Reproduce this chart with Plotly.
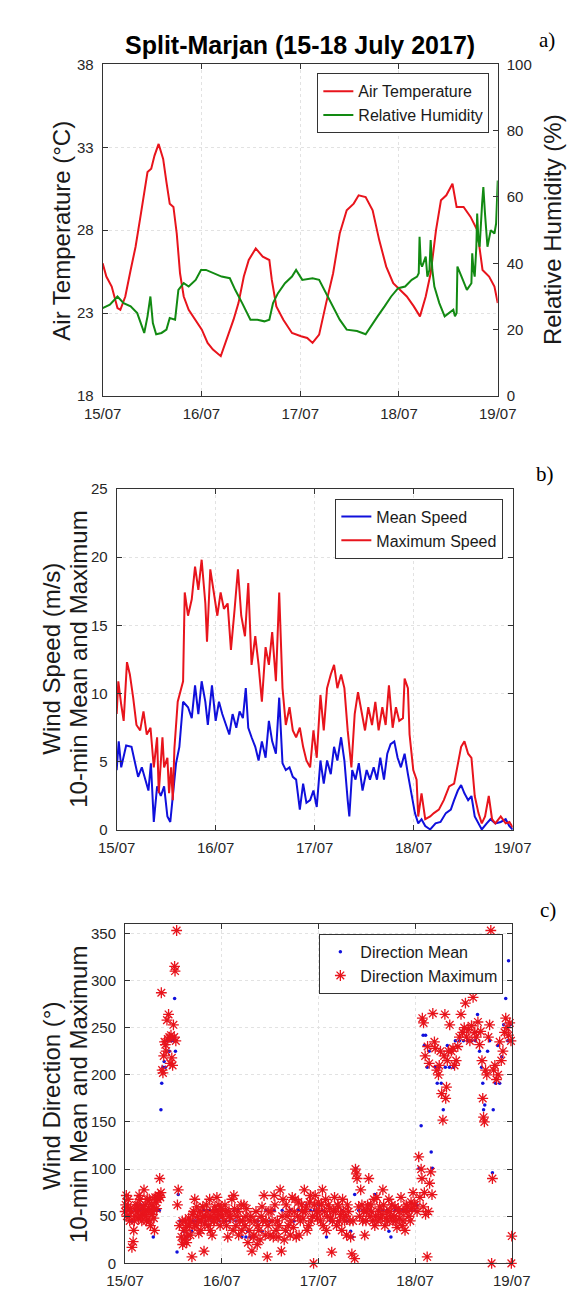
import plotly.graph_objects as go

W, H = 576, 1292

day_ticks = [0, 24, 48, 72, 96]
day_labels = ["15/07", "16/07", "17/07", "18/07", "19/07"]

# ---------------- Panel a: air temperature (°C) and relative humidity (%) ----------------
temp_hours = [0, 0.9, 2.2, 3.6, 4.3, 5.5, 6.8, 8.0, 9.3, 10.9, 11.8, 12.6, 13.6, 14.7, 15.5, 16.3,
              17.2, 18.0, 18.8, 19.7, 20.9, 22.6, 24.1, 25.5, 26.8, 28.7, 30.1, 31.8, 33.0, 34.3,
              35.5, 37.2, 38.9, 40.5, 41.1, 42.2, 43.9, 46.0, 48.2, 49.7, 51.0, 52.6, 54.3, 56.0,
              57.6, 59.3, 61.0, 62.2, 63.9, 65.6, 67.2, 68.9, 70.6, 72.2, 73.9, 75.6, 77.1, 78.5,
              79.7, 81.0, 82.2, 83.5, 85.0, 86.0, 87.7, 89.4, 91.0, 92.3, 93.9, 95.2, 96.0]
temp_vals = [26.0, 25.2, 24.6, 23.3, 23.2, 24.0, 25.6, 27.0, 29.0, 31.5, 31.7, 32.5, 33.2, 32.3,
             30.9, 29.6, 29.4, 27.8, 25.4, 24.0, 23.2, 22.6, 22.0, 21.2, 20.8, 20.4, 21.4, 22.6,
             23.6, 25.2, 26.2, 26.9, 26.4, 26.2, 25.0, 23.4, 22.6, 21.8, 21.6, 21.5, 21.2, 21.7,
             23.6, 25.4, 27.8, 29.2, 29.6, 30.1, 30.0, 29.2, 27.4, 25.8, 24.8, 24.4, 24.0, 23.4,
             22.8, 24.0, 25.4, 28.0, 29.8, 30.1, 30.8, 29.4, 29.4, 28.8, 28.0, 25.6, 25.2, 24.6, 23.6]

rh_hours = [0, 1.75, 3.6, 5.1, 6.8, 8.4, 10.1, 10.9, 11.6, 12.2, 13.0, 14.3, 15.5, 16.3, 17.6,
            18.4, 19.7, 20.9, 22.6, 23.9, 25.1, 27.2, 28.9, 30.9, 32.2, 33.9, 35.9, 37.6, 39.3,
            40.5, 41.4, 42.6, 44.3, 46.0, 47.0, 48.5, 51.0, 52.6, 54.3, 56.0, 57.6, 59.3, 61.8,
            63.9, 65.1, 66.8, 68.5, 70.1, 71.8, 73.5, 75.1, 76.4, 76.8, 77.0, 77.3, 77.6, 78.5,
            78.9, 79.4, 79.7, 80.1, 80.6, 81.8, 83.1, 85.2, 85.6, 86.0, 86.2, 87.2, 88.5, 89.6,
            89.8, 90.1, 90.4, 90.8, 91.0, 91.3, 91.6, 92.2, 92.5, 92.9, 93.5, 94.3, 95.2, 95.6, 96.0]
rh_vals = [26.5, 27.5, 30.0, 28.0, 27.0, 25.0, 19.0, 24.0, 30.0, 22.0, 18.6, 19.0, 20.0, 23.5,
           23.0, 32.0, 34.0, 33.0, 35.0, 38.0, 38.0, 37.0, 36.0, 35.5, 32.0, 28.0, 23.0, 23.0,
           22.5, 23.0, 28.0, 31.0, 34.0, 36.0, 38.0, 35.0, 35.5, 35.0, 31.0, 27.0, 23.0, 20.0,
           19.6, 18.6, 21.0, 24.0, 27.0, 30.0, 32.5, 33.0, 35.0, 36.0, 37.0, 48.0, 40.0, 39.0,
           42.0, 36.0, 38.0, 47.0, 38.0, 33.0, 28.0, 24.0, 26.0, 24.0, 25.0, 39.0, 36.0, 32.0,
           34.0, 43.0, 38.0, 36.0, 45.0, 55.0, 47.0, 45.0, 58.0, 63.0, 55.0, 45.0, 50.0, 49.0, 52.0, 65.0]

# ---------------- Panel b: wind speed (m/s) ----------------
wmax_hours = [0, 0.4, 1.1, 1.7, 2.5, 3.2, 4.0, 4.8, 5.7, 6.5, 7.3, 8.2, 9.0, 9.8, 10.2, 11.1, 11.5,
              12.3, 12.7, 13.2, 13.6, 14.0, 14.8, 16.1, 16.5, 17.3, 18.2, 19.0, 19.8, 20.6, 21.5,
              21.9, 22.7, 23.6, 24.4, 25.2, 26.0, 26.9, 27.7, 28.6, 29.4, 30.2, 31.1, 31.9, 32.7,
              33.6, 34.4, 35.2, 36.1, 36.9, 37.7, 38.6, 39.4, 40.2, 41.0, 41.9, 42.7, 43.5, 44.4,
              45.2, 46.0, 46.9, 47.7, 48.5, 49.4, 50.2, 51.0, 51.9, 52.7, 53.5, 54.4, 55.2, 56.0,
              56.9, 57.7, 58.5, 59.4, 60.2, 61.0, 61.9, 62.7, 63.5, 64.4, 65.2, 66.0, 66.9, 67.7,
              68.5, 69.4, 69.8, 70.6, 71.0, 71.9, 72.7, 73.1, 73.9, 74.8, 76.0, 76.9, 78.1, 79.3,
              80.6, 81.8, 82.7, 83.5, 84.3, 85.2, 86.0, 86.8, 87.7, 88.5, 89.3, 90.2, 91.0, 91.8,
              93.1, 94.3, 95.2, 96.0]
wmax_vals = [8.5, 10.9, 9.2, 8.0, 12.3, 11.4, 9.7, 7.7, 7.3, 8.7, 7.0, 7.5, 4.6, 6.8, 2.7, 6.8, 4.6,
             5.3, 2.7, 4.6, 2.2, 6.0, 9.4, 10.9, 17.4, 15.7, 16.9, 19.3, 17.6, 19.8, 16.6, 13.8,
             19.1, 17.1, 15.7, 17.4, 16.2, 16.6, 13.2, 16.2, 19.1, 15.7, 14.2, 18.1, 12.1, 14.2,
             12.1, 9.4, 13.4, 12.1, 14.5, 10.9, 17.4, 10.4, 7.7, 9.0, 7.3, 6.8, 7.5, 6.1, 5.1, 4.6,
             7.3, 5.3, 9.9, 7.3, 10.4, 11.4, 12.1, 10.4, 11.4, 10.4, 7.3, 4.6, 8.5, 10.1, 8.5, 7.3,
             9.0, 7.7, 9.4, 7.3, 9.0, 7.7, 10.6, 7.5, 9.0, 8.0, 8.2, 11.1, 10.4, 7.0, 4.4, 3.7, 1.0,
             2.7, 0.8, 1.0, 1.25, 1.5, 2.2, 3.2, 3.4, 4.9, 6.1, 6.5, 5.6, 5.3, 2.5, 1.25, 0.5, 1.0,
             2.5, 0.8, 0.5, 1.0, 0.5, 0.6, 0.2]

wmean_hours = [0, 0.5, 1.1, 2.3, 3.6, 4.4, 5.2, 6.1, 6.9, 7.7, 8.3, 9.0, 9.8, 10.7, 11.5, 12.3,
               13.0, 13.6, 14.4, 15.2, 16.1, 17.3, 18.2, 19.0, 19.8, 20.6, 21.5, 22.1, 23.1, 24.0,
               24.8, 25.6, 26.5, 27.3, 28.1, 29.0, 29.8, 30.6, 31.3, 31.9, 32.7, 33.6, 34.4, 35.2,
               36.1, 36.9, 37.7, 38.6, 39.4, 40.2, 41.0, 41.9, 42.7, 43.5, 44.4, 45.2, 46.0, 46.9,
               47.7, 48.5, 49.4, 50.2, 51.0, 51.9, 52.7, 53.5, 54.4, 55.2, 56.0, 56.4, 57.1, 57.9,
               58.7, 59.6, 60.6, 61.4, 62.3, 63.1, 63.9, 64.8, 65.6, 66.4, 67.3, 68.1, 68.9, 69.8,
               70.6, 71.5, 72.3, 73.1, 73.9, 74.8, 76.0, 77.3, 78.5, 79.8, 81.0, 81.8, 82.7, 83.5,
               84.3, 85.2, 86.0, 86.8, 87.7, 88.5, 89.7, 90.6, 91.8, 93.1, 94.3, 95.2, 96.0]
wmean_vals = [4.4, 6.5, 4.6, 6.2, 6.1, 4.9, 3.9, 4.6, 3.7, 2.9, 4.9, 0.6, 3.2, 2.5, 3.2, 1.0, 0.6,
              2.7, 4.9, 6.1, 9.4, 9.0, 8.2, 10.6, 8.5, 10.9, 9.4, 7.7, 10.6, 8.0, 9.4, 8.5, 7.7,
              7.0, 8.5, 7.5, 8.7, 8.2, 10.4, 7.5, 6.8, 6.1, 5.1, 6.5, 5.3, 8.0, 6.5, 5.6, 9.7, 4.9,
              4.4, 4.6, 3.9, 3.7, 1.5, 3.4, 2.0, 2.2, 2.9, 1.7, 5.1, 3.4, 5.1, 4.1, 6.1, 5.1, 6.8,
              5.1, 2.2, 1.0, 4.4, 3.7, 4.9, 2.9, 4.4, 3.7, 4.6, 3.7, 5.3, 3.7, 5.6, 6.3, 6.5, 5.3,
              4.6, 5.6, 4.1, 2.7, 1.25, 0.5, 0.8, 0.3, 0.05, 0.5, 0.6, 1.25, 1.5, 2.2, 2.9, 3.3,
              2.7, 2.2, 2.5, 1.0, 0.5, 0.05, 0.5, 0.8, 0.5, 0.6, 0.8, 0.3, 0.05]

# ---------------- Panel c: wind direction (°) ----------------
dmax_hours = [0, 0.3, 0.6, 1.0, 1.3, 1.7, 2.0, 2.3, 2.7, 3.0, 3.3, 3.7, 4.0, 4.3, 4.7, 5.0, 5.3, 5.7,
              6.0, 6.3, 6.7, 7.0, 7.3, 7.7, 8.0, 8.3, 8.6, 8.9,
              9.0, 9.2, 9.4, 9.6, 9.8, 10.0, 10.2, 10.4, 10.6, 10.8, 11.0, 11.2, 11.4, 11.6, 11.8,
              12.0, 12.2, 12.3, 12.4, 12.6, 12.8,
              13.0, 13.2, 13.5,
              14.0, 14.3, 14.6, 15.0, 15.3, 15.6, 16.0, 16.3, 16.6, 17.0, 17.3, 17.6, 18.0, 18.3,
              18.6, 19.0, 19.3, 19.6, 20.0, 20.3, 20.6, 21.0, 21.3, 21.6, 22.0, 22.3, 22.6, 23.0,
              23.3, 23.6,
              24.0, 24.5, 25.0, 25.5, 26.0, 26.5, 27.0, 27.5, 28.0, 28.5, 29.0, 29.5, 30.0, 30.5,
              31.0, 31.5, 32.0, 32.5, 33.0, 33.5, 34.0, 34.5, 35.0, 35.3, 35.7, 36.0,
              36.5, 37.0, 37.5, 38.0, 38.5, 38.8, 39.0, 39.5, 40.0, 40.5, 41.0, 41.5, 42.0, 42.5,
              43.0, 43.5, 44.0, 44.5, 45.0, 45.5, 46.0, 46.5, 46.8, 47.0, 47.5,
              48.0, 48.5, 49.0, 49.5, 50.0, 50.5, 51.0, 51.3, 51.7, 52.0, 52.5, 53.0, 53.5, 54.0,
              54.5, 55.0, 55.5, 56.0, 56.3, 56.6, 57.0, 57.2, 57.4, 57.6, 58.0, 58.5, 59.0, 59.5, 60.0,
              60.5, 61.0, 61.5, 62.0, 62.5, 63.0, 63.5, 64.0, 64.5, 65.0, 65.5, 66.0, 66.5, 67.0,
              67.5, 68.0, 68.5, 69.0, 69.5, 70.0, 70.5, 71.0, 71.5,
              72.0, 72.5, 72.9, 73.2, 73.5, 73.7, 74.0, 74.3, 74.6, 75.0, 75.3, 75.6, 75.9, 76.2,
              73.8, 74.1, 74.5, 75.1, 75.5,
              76.4, 76.8, 77.0, 77.4, 77.8, 78.0, 78.3, 78.6, 78.9, 79.2, 79.4, 79.6, 79.8, 80.0,
              80.3, 80.6, 81.0, 81.4, 81.8, 82.2, 82.6, 83.0, 83.4, 83.8, 84.2, 84.5, 84.8, 85.2,
              85.6, 86.0, 86.4, 86.8, 87.2, 87.6, 88.0, 88.3, 88.6, 88.8, 89.0, 89.2, 89.5, 89.8,
              90.2, 90.5, 90.8, 91.0, 91.2, 91.0, 91.5, 91.8, 92.2, 92.6, 93.0, 93.4, 93.8, 94.2,
              94.5, 94.8, 95.2, 95.5, 95.8, 95.9, 96.0]
dmax_vals = [55, 72, 60, 50, 58, 17, 23, 45, 62, 55, 48, 68, 58, 52, 78, 62, 45, 55,
             68, 40, 52, 60, 35, 65, 70, 72, 90, 75,
             287, 205, 202, 220, 235, 232, 225, 258, 238, 264, 240, 212, 242, 218, 210,
             253, 240, 315, 310, 236, 353,
             62, 78, 40,
             28, 20, 35, 45, 22, 30, 40, 45, 7, 55, 68, 40, 50, 32,
             55, 45, 60, 13, 50, 55, 40, 68, 50, 30, 45, 60, 55, 48,
             62, 40,
             58, 45, 55, 28, 50, 68, 72, 40, 55, 45, 35, 62, 50, 22,
             45, 13, 30, 55, 40, 25, 60, 72, 45, 7, 55, 30,
             45, 72, 35, 28, 78, 13, 50, 25, 62, 40, 30, 70, 55, 28,
             65, 45, 55, 78, 60, 40, 72, 50, 0, 62, 55,
             65, 45, 78, 55, 35, 62, 48, 12, 55, 70, 40, 60, 52, 68,
             45, 30, 55, 28, 10, 45, 5, 100, 95, 90, 60, 78, 45, 30, 55,
             90, 62, 45, 40, 70, 55, 48, 78, 40, 55, 68, 50, 45, 60,
             38, 55, 70, 45, 35, 60, 50, 65, 75,
             62, 55, 113, 70, 100, 90, 60, 75, 52, 7, 55, 85, 97, 73,
             260, 255, 220, 230, 212,
             265, 235, 228, 205, 200, 210, 225, 180, 152, 220, 264, 175, 187, 215,
             225, 253, 225, 228, 210, 215, 230, 240, 264, 245, 250, 276, 240, 248,
             236, 252, 282, 245, 240, 256, 232, 246, 215, 175, 155, 150, 205, 200,
             240, 253, 353, 298, 90, 0, 205, 210, 195, 200, 235, 215, 225, 245,
             260, 250, 242, 255, 236, 0, 29]

# additional stars of the dense low band
dmax_hours_dense = [0.15, 0.45, 0.8, 1.15, 1.5, 2.15, 2.5, 2.85, 3.15, 3.5, 3.85, 4.15, 4.5, 4.85,
                    5.15, 5.5, 5.85, 6.15, 6.5, 6.85, 7.15, 7.5, 7.85, 8.15, 8.45, 8.75,
                    14.2, 14.8, 15.2, 15.8, 16.2, 16.8, 17.2, 17.8, 18.2, 18.8, 19.2, 19.8, 20.2,
                    20.8, 21.2, 21.8, 22.2, 22.8, 23.2, 23.8, 24.2, 24.8, 25.2, 25.8, 26.2, 26.8,
                    27.2, 27.8, 28.2, 28.8, 29.2, 29.8, 30.2, 30.8, 31.2, 31.8, 32.2, 32.8, 33.2,
                    33.8, 34.2, 34.8, 35.5, 36.2, 36.8, 37.2, 37.8, 38.2, 39.2, 39.8, 40.2, 40.8,
                    41.2, 41.8, 42.2, 42.8, 43.2, 43.8, 44.2, 44.8, 45.2, 45.8, 46.2, 47.2, 47.8,
                    48.2, 48.8, 49.2, 49.8, 50.2, 50.8, 51.5, 52.2, 52.8, 53.2, 53.8, 54.2, 54.8,
                    55.2, 55.8, 58.2, 58.8, 59.2, 59.8, 60.2, 60.8, 61.2, 61.8, 62.2, 62.8, 63.2,
                    63.8, 64.2, 64.8, 65.2, 65.8, 66.2, 66.8, 67.2, 67.8, 68.2, 68.8, 69.2, 69.8,
                    70.2, 70.8, 71.2, 71.8]
dmax_vals_dense = [62, 50, 68, 45, 55, 35, 50, 58, 62, 72, 50, 45, 60, 55,
                   50, 68, 58, 45, 62, 55, 48, 70, 58, 68, 72, 70,
                   45, 25, 38, 48, 30, 52, 40, 60, 45, 35, 50, 42, 62,
                   48, 35, 55, 45, 70, 52, 58, 50, 62, 40, 55, 48, 35,
                   58, 50, 30, 62, 45, 40, 58, 35, 50, 28, 45, 20, 35,
                   50, 45, 30, 40, 55, 28, 62, 45, 40, 68, 35, 50, 55,
                   45, 38, 68, 50, 30, 62, 48, 55, 35, 65, 45, 72, 48,
                   55, 62, 40, 68, 50, 58, 45, 55, 62, 45, 35, 55, 50,
                   62, 45, 50, 62, 55, 45, 62, 50, 55, 68, 50, 45, 60,
                   52, 62, 48, 45, 55, 62, 50, 45, 58, 48, 40, 55, 62,
                   55, 45, 58, 62]

dmean_hours = [0, 0.5, 1.0, 1.5, 2.0, 2.5, 3.0, 3.5, 4.0, 4.5, 5.0, 5.5, 6.0, 6.5, 7.0, 7.5, 8.0,
               8.5, 8.9, 9.1, 9.4, 9.7, 10.0, 10.5, 11.0, 11.5, 12.0, 12.3, 12.5, 12.9, 13.2, 13.6,
               14.0, 14.5, 15.0, 15.5, 16.0, 16.5, 17.0, 17.5, 18.0, 18.5, 19.0, 19.5, 20.0, 20.5,
               21.0, 21.5, 22.0, 22.5, 23.0, 23.5, 24.0, 25.0, 25.5, 26.0, 27.0, 27.5, 28.0, 29.0,
               30.0, 30.5, 31.0, 32.0, 33.0, 34.0, 35.0, 36.0, 37.0, 38.0, 39.0, 40.0, 41.0, 42.0,
               43.0, 44.0, 45.0, 46.0, 47.0, 48.0, 49.0, 50.0, 51.0, 52.0, 53.0, 54.0, 55.0, 56.0,
               56.5, 57.0, 57.3, 58.0, 59.0, 60.0, 61.0, 62.0, 63.0, 64.0, 65.0, 65.5, 66.0, 67.0,
               68.0, 69.0, 70.0, 71.0, 72.0, 72.5, 73.0, 73.5, 74.0, 74.3, 74.6, 75.0, 75.5, 76.0,
               76.3, 77.0, 77.5, 78.0, 78.5, 79.0, 79.5, 80.0, 80.5, 81.0, 81.5, 82.0, 83.0, 84.0,
               85.0, 86.0, 87.0, 87.5, 88.0, 88.5, 88.8, 89.0, 89.3, 90.0, 90.5, 91.2, 91.4, 92.0,
               92.5, 93.0, 93.5, 94.0, 94.5, 95.0, 95.2, 95.6, 96.0]
dmean_vals = [56, 62, 56, 45, 45, 56, 56, 56, 62, 56, 56, 45, 56, 56, 28, 56, 56,
              56, 163, 191, 208, 214, 208, 236, 225, 236, 236, 281, 225, 12, 73, 45,
              28, 34, 28, 28, 45, 34, 45, 45, 45, 56, 45, 56, 45, 56,
              56, 45, 56, 56, 56, 45, 56, 45, 56, 45, 56, 45, 56, 28,
              28, 34, 28, 28, 45, 34, 56, 45, 56, 45, 56, 34, 56, 45,
              56, 56, 62, 56, 56, 62, 56, 28, 45, 56, 45, 56, 45, 34,
              28, 73, 101, 56, 56, 45, 56, 73, 56, 56, 56, 34, 28, 56,
              56, 56, 56, 56, 56, 62, 101, 146, 242, 231, 242, 208, 225, 118,
              101, 208, 191, 208, 191, 163, 208, 231, 208, 225, 208, 236, 236, 236,
              236, 236, 236, 264, 225, 208, 191, 163, 168, 225, 236, 96, 163, 191,
              231, 191, 219, 253, 281, 236, 321, 253, 236]

# ---------------- figure ----------------
RED = "#e8141c"
GREEN = "#128a12"
BLUE = "#1010dc"
AXC = "#333333"
GRIDC = "#e2e2e2"
SANS = "Liberation Sans, Arial, sans-serif"
SERIF = "Liberation Serif, Times New Roman, serif"
TICKF = dict(family=SANS, size=15, color="#262626")

fig = go.Figure()
fig.add_trace(go.Scatter(x=temp_hours, y=temp_vals, mode="lines", name="Air Temperature",
                         line=dict(color=RED, width=2), xaxis="x", yaxis="y", legend="legend"))
fig.add_trace(go.Scatter(x=rh_hours, y=rh_vals, mode="lines", name="Relative Humidity",
                         line=dict(color=GREEN, width=2), xaxis="x", yaxis="y2", legend="legend"))
fig.add_trace(go.Scatter(x=wmean_hours, y=wmean_vals, mode="lines", name="Mean Speed",
                         line=dict(color=BLUE, width=2), xaxis="x2", yaxis="y3", legend="legend2"))
fig.add_trace(go.Scatter(x=wmax_hours, y=wmax_vals, mode="lines", name="Maximum Speed",
                         line=dict(color=RED, width=2), xaxis="x2", yaxis="y3", legend="legend2"))
fig.add_trace(go.Scatter(x=dmean_hours, y=dmean_vals, mode="markers", name="Direction Mean",
                         marker=dict(color=BLUE, size=3.5, symbol="circle"), cliponaxis=False,
                         xaxis="x3", yaxis="y4", legend="legend3"))
fig.add_trace(go.Scatter(x=dmax_hours + dmax_hours_dense, y=dmax_vals + dmax_vals_dense,
                         mode="markers", name="Direction Maximum",
                         marker=dict(symbol="asterisk-open", size=9, color=RED,
                                     line=dict(color=RED, width=1.3)),
                         cliponaxis=False, xaxis="x3", yaxis="y4", legend="legend3"))


def xd(l, r):
    return [l / W, r / W]


def yd(top, bottom):
    return [1 - bottom / H, 1 - top / H]


def xaxis_cfg(dom, anchor):
    return dict(domain=dom, anchor=anchor, range=[0, 96], tickvals=day_ticks, ticktext=day_labels,
                ticks="inside", ticklen=5, tickcolor=AXC, showline=True, linecolor=AXC,
                linewidth=1, mirror="ticks", showgrid=True, gridcolor=GRIDC, griddash="dot",
                gridwidth=1, zeroline=False, tickfont=TICKF, ticklabelstandoff=4, fixedrange=True)


def yaxis_cfg(dom, anchor, rng, dtick, mirror="ticks"):
    return dict(domain=dom, anchor=anchor, range=rng, dtick=dtick, tick0=rng[0], ticks="inside",
                ticklen=5, tickcolor=AXC, showline=True, linecolor=AXC, linewidth=1,
                mirror=mirror, showgrid=True, gridcolor=GRIDC, griddash="dot", gridwidth=1,
                zeroline=False, tickfont=TICKF, ticklabelstandoff=5, fixedrange=True)


A_dom_x, A_dom_y = xd(81, 504), yd(48, 384)
B_dom_x, B_dom_y = xd(96, 520), yd(478, 824)
C_dom_x, C_dom_y = xd(105, 519), yd(919, 1263)

y1 = yaxis_cfg(A_dom_y, "x", [18, 38], 5, mirror=False)
y2 = dict(domain=A_dom_y, anchor="x", overlaying="y", side="right", range=[0, 100], dtick=20,
          ticks="inside", ticklen=5, tickcolor=AXC, showline=True, linecolor=AXC, linewidth=1,
          showgrid=False, zeroline=False, tickfont=TICKF, ticklabelstandoff=5, fixedrange=True)

legend_common = dict(bgcolor="white", bordercolor=AXC, borderwidth=1,
                     font=dict(family=SANS, size=16, color="#1a1a1a"),
                     xanchor="right", yanchor="top", tracegroupgap=0, itemwidth=30)

fig.update_layout(
    width=W, height=H, margin=dict(l=0, r=0, t=0, b=0),
    paper_bgcolor="white", plot_bgcolor="white",
    xaxis=xaxis_cfg(A_dom_x, "y"),
    yaxis=y1,
    yaxis2=y2,
    xaxis2=xaxis_cfg(B_dom_x, "y3"),
    yaxis3=yaxis_cfg(B_dom_y, "x2", [0, 25], 5),
    xaxis3=xaxis_cfg(C_dom_x, "y4"),
    yaxis4=yaxis_cfg(C_dom_y, "x3", [0, 360], 50),
    legend=dict(x=495 / W, y=1 - 57 / H, **legend_common),
    legend2=dict(x=510 / W, y=1 - 488 / H, **legend_common),
    legend3=dict(x=510 / W, y=1 - 929 / H, **legend_common),
    showlegend=True,
)


def ann(text, x, y, size, family=SANS, angle=0, bold=False, color="#1a1a1a"):
    t = f"<b>{text}</b>" if bold else text
    fig.add_annotation(text=t, x=x / W, y=1 - y / H, xref="paper", yref="paper",
                       xanchor="center", yanchor="middle", showarrow=False, textangle=angle,
                       font=dict(family=family, size=size, color=color))


ann("Split-Marjan (15-18 July 2017)", 292, 28, 25, bold=True, color="#000000")
ann("a)", 557, 23, 21, family=SERIF, color="#000000")
ann("b)", 555, 463, 21, family=SERIF, color="#000000")
ann("c)", 558, 905, 21, family=SERIF, color="#000000")
ann("Air Temperature (°C)", 37, 217, 24, angle=-90)
ann("Relative Humidity (%)", 562, 215, 24, angle=-90)
ann("Wind Speed (m/s)", 26, 650, 24, angle=-90)
ann("10-min Mean and Maximum", 55, 651, 24, angle=-90)
ann("Wind Direction (°)", 26, 1093, 24, angle=-90)
ann("10-min Mean and Maximum", 55, 1092, 24, angle=-90)

fig.write_html("out.html")
